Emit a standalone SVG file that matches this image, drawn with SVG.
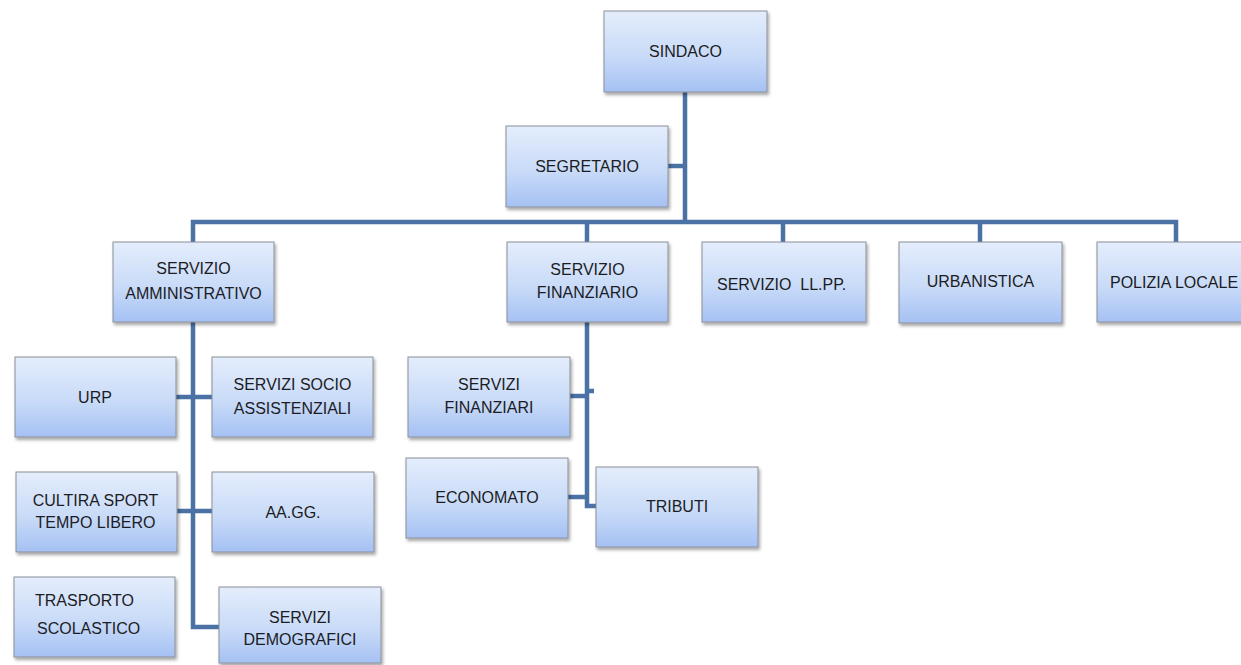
<svg xmlns="http://www.w3.org/2000/svg" width="1241" height="665" viewBox="0 0 1241 665">
<defs>
<linearGradient id="g" x1="0" y1="0" x2="0" y2="1">
<stop offset="0" stop-color="#e4edfc"/>
<stop offset="0.55" stop-color="#c9dbf8"/>
<stop offset="1" stop-color="#a5c1f3"/>
</linearGradient>
<filter id="sh" x="-10%" y="-10%" width="130%" height="140%">
<feDropShadow dx="1.5" dy="2.5" stdDeviation="1.5" flood-color="#000" flood-opacity="0.35"/>
</filter>
</defs>
<style>
.box{fill:url(#g);stroke:#8a8f98;stroke-width:1;filter:url(#sh)}
.t{font-family:"Liberation Sans",Arial,sans-serif;font-size:16px;fill:#1c1c24;text-anchor:middle;dominant-baseline:central}
.ts{text-anchor:start}
.c{fill:none;stroke:#4a72a5;stroke-width:4.5;stroke-linejoin:miter;stroke-linecap:butt}
</style>
<rect width="1241" height="665" fill="#fff"/>
<g id="connectors">
<path class="c" d="M685 92 V222"/>
<path class="c" d="M668 166 H685"/>
<path class="c" d="M193 242 V222 H1176 V242"/>
<path class="c" d="M587 222 V242"/>
<path class="c" d="M783 222 V242"/>
<path class="c" d="M980 222 V242"/>
<path class="c" d="M193 322 V627 H219"/>
<path class="c" d="M176 397 H212"/>
<path class="c" d="M177 511 H212"/>
<path class="c" d="M587 322 V506 H596"/>
<path class="c" d="M587 391 H594"/>
<path class="c" d="M570 396 H587"/>
<path class="c" d="M568 497 H587"/>
</g>
<g id="sindaco"><rect class="box" x="604" y="11" width="163" height="81"/><text class="t" x="685.5" y="51">SINDACO</text></g>
<g id="segretario"><rect class="box" x="506" y="126" width="162" height="81"/><text class="t" x="587" y="166">SEGRETARIO</text></g>
<g id="servizio-amministrativo"><rect class="box" x="113" y="242" width="161" height="80"/><text class="t" x="193.5" y="268">SERVIZIO</text><text class="t" x="193.5" y="293">AMMINISTRATIVO</text></g>
<g id="servizio-finanziario"><rect class="box" x="507" y="242" width="161" height="80"/><text class="t" x="587.5" y="269">SERVIZIO</text><text class="t" x="587.5" y="292">FINANZIARIO</text></g>
<g id="servizio-llpp"><rect class="box" x="702" y="242" width="164" height="80"/><text class="t ts" x="717" y="284" xml:space="preserve">SERVIZIO  LL.PP.</text></g>
<g id="urbanistica"><rect class="box" x="899" y="242" width="163" height="81"/><text class="t" x="980.5" y="281">URBANISTICA</text></g>
<g id="polizia-locale"><rect class="box" x="1097" y="242" width="170" height="80"/><text class="t ts" x="1110" y="282">POLIZIA LOCALE</text></g>
<g id="urp"><rect class="box" x="15" y="357" width="161" height="80"/><text class="t" x="95" y="397">URP</text></g>
<g id="servizi-socio-assistenziali"><rect class="box" x="212" y="357" width="161" height="80"/><text class="t" x="292.5" y="384">SERVIZI SOCIO</text><text class="t" x="292.5" y="408">ASSISTENZIALI</text></g>
<g id="cultira-sport"><rect class="box" x="16" y="472" width="161" height="80"/><text class="t" x="95.5" y="500">CULTIRA SPORT</text><text class="t" x="95.5" y="522">TEMPO LIBERO</text></g>
<g id="aagg"><rect class="box" x="212" y="472" width="162" height="80"/><text class="t" x="293" y="512">AA.GG.</text></g>
<g id="trasporto-scolastico"><rect class="box" x="14" y="577" width="161" height="80"/><text class="t ts" x="35" y="600">TRASPORTO</text><text class="t ts" x="37" y="628">SCOLASTICO</text></g>
<g id="servizi-demografici"><rect class="box" x="219" y="587" width="162" height="76"/><text class="t" x="300" y="617">SERVIZI</text><text class="t" x="300" y="639">DEMOGRAFICI</text></g>
<g id="servizi-finanziari"><rect class="box" x="408" y="357" width="162" height="80"/><text class="t" x="489" y="384">SERVIZI</text><text class="t" x="489" y="407">FINANZIARI</text></g>
<g id="economato"><rect class="box" x="406" y="458" width="162" height="80"/><text class="t" x="487" y="497">ECONOMATO</text></g>
<g id="tributi"><rect class="box" x="596" y="467" width="162" height="80"/><text class="t" x="677" y="506">TRIBUTI</text></g>
</svg>
